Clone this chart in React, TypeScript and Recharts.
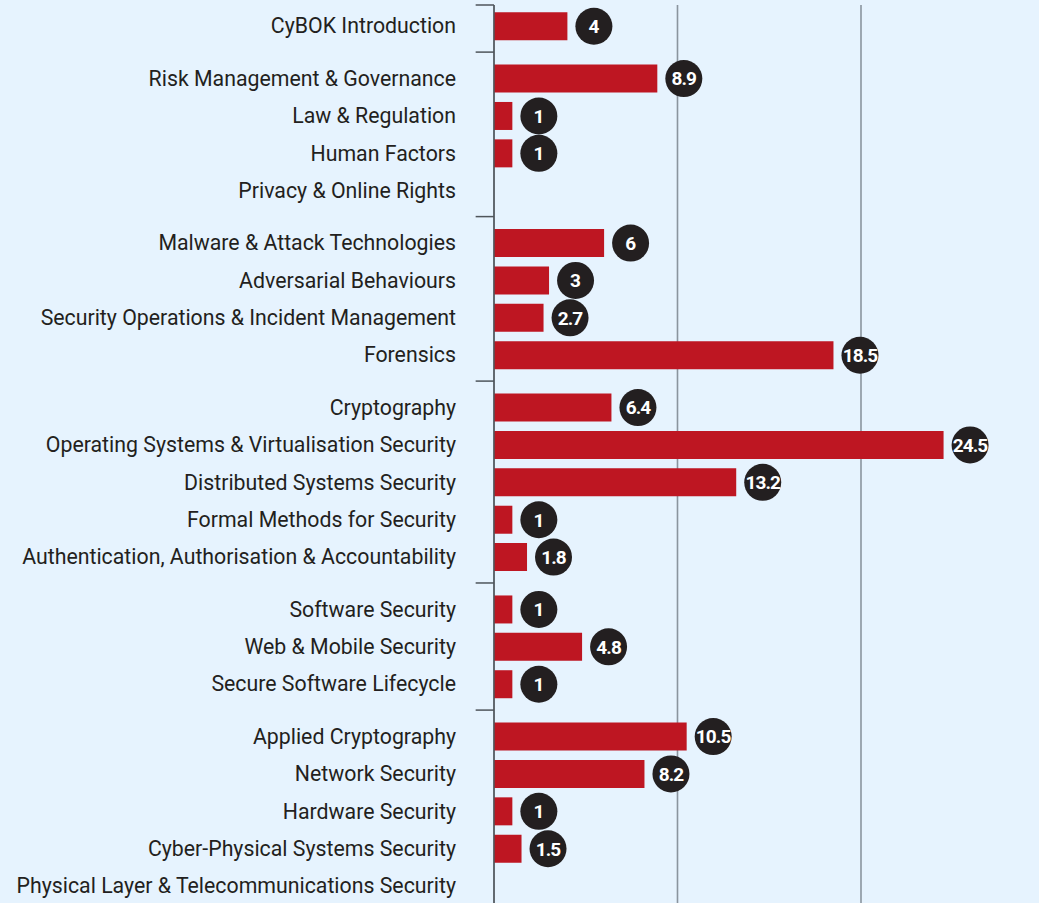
import { Bar, BarChart, CartesianGrid, LabelList, ReferenceLine, XAxis, YAxis } from "recharts"

const groupSizes = [1, 4, 4, 5, 3, 5]

const topics = [
  "CyBOK Introduction",
  "Risk Management & Governance",
  "Law & Regulation",
  "Human Factors",
  "Privacy & Online Rights",
  "Malware & Attack Technologies",
  "Adversarial Behaviours",
  "Security Operations & Incident Management",
  "Forensics",
  "Cryptography",
  "Operating Systems & Virtualisation Security",
  "Distributed Systems Security",
  "Formal Methods for Security",
  "Authentication, Authorisation & Accountability",
  "Software Security",
  "Web & Mobile Security",
  "Secure Software Lifecycle",
  "Applied Cryptography",
  "Network Security",
  "Hardware Security",
  "Cyber-Physical Systems Security",
  "Physical Layer & Telecommunications Security",
]

const values: (number | null)[] = [
  4, 8.9, 1, 1, null, 6, 3, 2.7, 18.5, 6.4, 24.5, 13.2, 1, 1.8, 1, 4.8, 1, 10.5, 8.2, 1, 1.5, null,
]

const gridTicks = [10, 20]

const GAP = 0.4
const Y_DOMAIN: [number, number] = [-0.56, 23.46]

// row positions with a little extra space between knowledge-area groups
const groupOf: number[] = groupSizes.flatMap((n, g) => Array(n).fill(g))
const data = topics.map((name, i) => ({ name, value: values[i], pos: i + GAP * groupOf[i] }))

const boundaries: number[] = [Y_DOMAIN[0]]
groupSizes.reduce((start, n, g) => {
  if (g > 0) boundaries.push(data[start].pos - 0.5 - GAP / 2)
  return start + n
}, 0)

const nameByPos = new Map(data.map((d) => [d.pos, d.name]))

const ValueBadge = (props: any) => {
  const { x, y, width, height, value } = props
  if (value == null) return null
  const cx = Number(x) + Number(width) + 26.5
  const cy = Number(y) + Number(height) / 2
  return (
    <g>
      <circle cx={cx} cy={cy} r={18.5} fill="#231f20" />
      <text
        x={cx}
        y={cy}
        dy="0.36em"
        textAnchor="middle"
        fill="#ffffff"
        fontSize={19}
        fontWeight={700}
        letterSpacing={String(value).length > 1 ? -0.9 : 0}
        fontFamily="Roboto, sans-serif"
      >
        {value}
      </text>
    </g>
  )
}

export default function App() {
  // chart is a bit wider than the frame so the plot's right edge is cropped off
  return (
    <div
      style={{
        position: "absolute",
        left: 0,
        top: 0,
        width: 1039,
        height: 903,
        overflow: "hidden",
        background: "#e6f3fe",
      }}
    >
      <BarChart
        layout="vertical"
        width={1050}
        height={903}
        data={data}
        margin={{ top: 5, right: 0, bottom: 0, left: 0 }}
      >
        <CartesianGrid horizontal={false} stroke="#8a949e" strokeWidth={1.6} />
        <XAxis type="number" domain={[0, 30.3]} ticks={gridTicks} hide />
        <YAxis
          type="number"
          dataKey="pos"
          domain={Y_DOMAIN}
          allowDataOverflow
          ticks={data.map((d) => d.pos)}
          interval={0}
          width={494}
          tickSize={0}
          tickMargin={38}
          tickFormatter={(v: number) => nameByPos.get(v) ?? ""}
          tick={{ fill: "#231f20", fontSize: 21.3, fontFamily: "Roboto, sans-serif" }}
          axisLine={{ stroke: "#4f555b", strokeWidth: 1.5 }}
        />
        {boundaries.map((b) => (
          <ReferenceLine
            key={b}
            segment={[
              { x: -1, y: b },
              { x: 0, y: b },
            ]}
            stroke="#4f555b"
            strokeWidth={1.5}
            ifOverflow="visible"
          />
        ))}
        <Bar dataKey="value" fill="#be1622" barSize={28} isAnimationActive={false}>
          <LabelList dataKey="value" content={ValueBadge} />
        </Bar>
      </BarChart>
    </div>
  )
}
